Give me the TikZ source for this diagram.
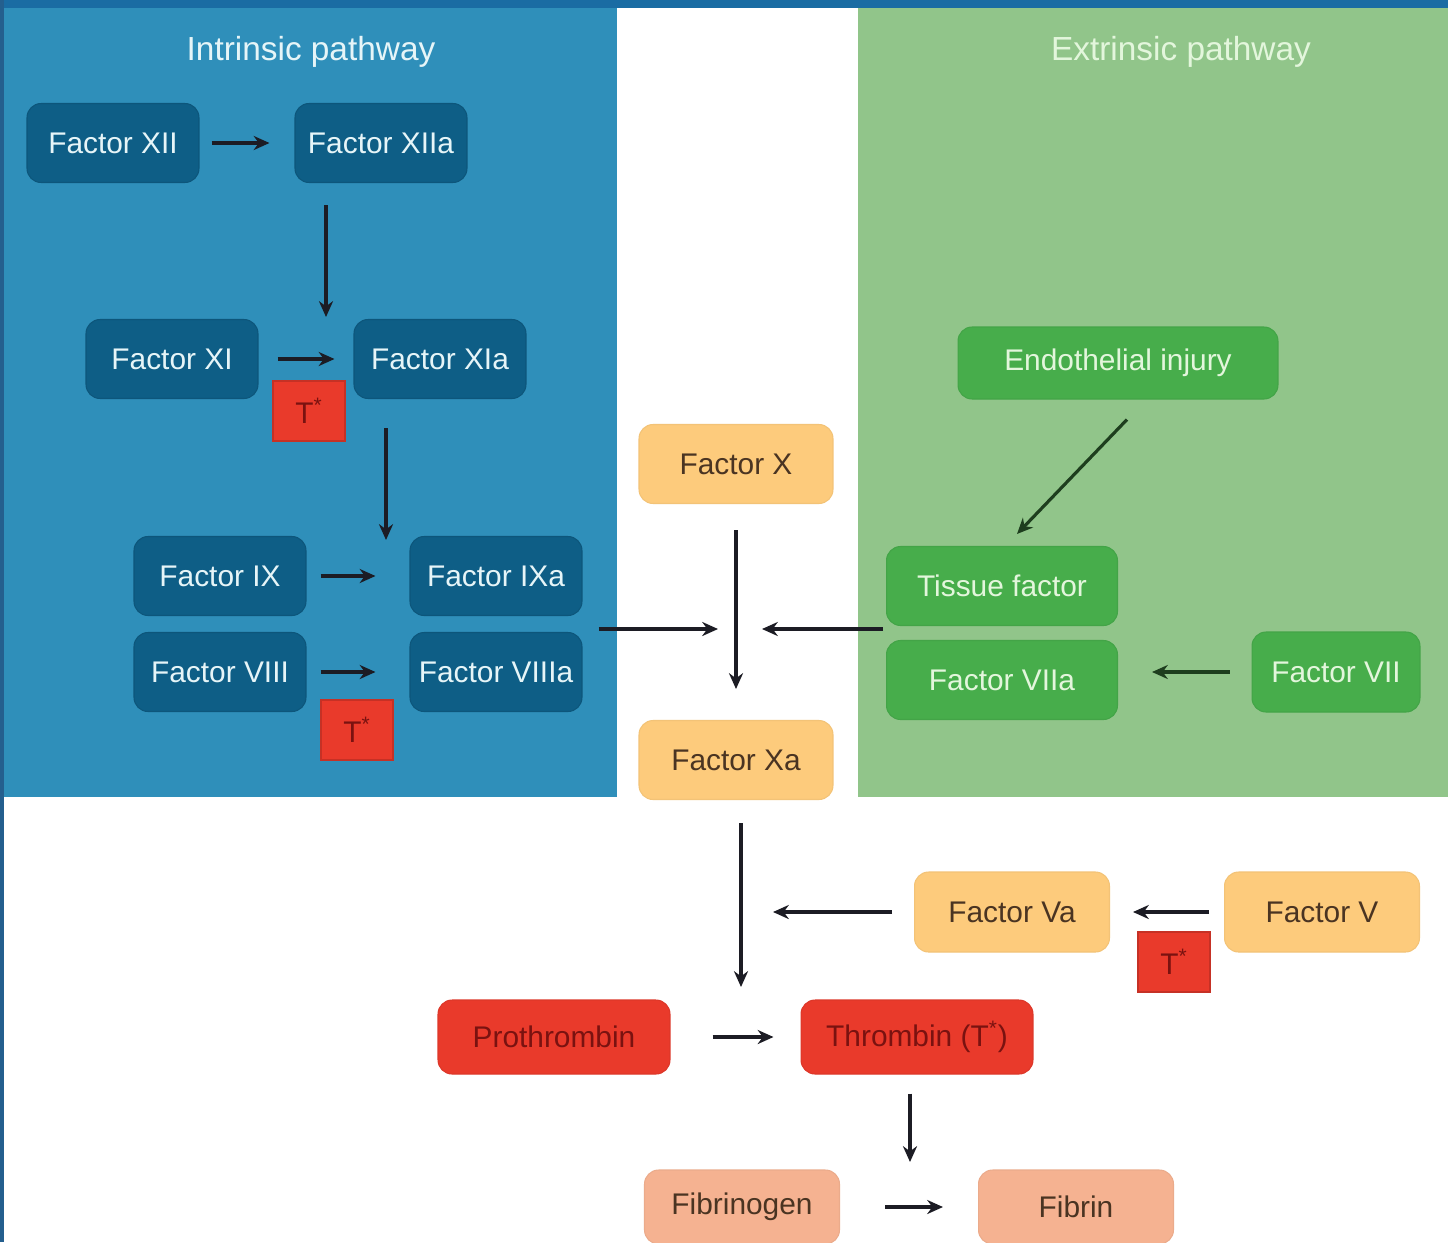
\documentclass[tikz,border=0pt]{standalone}
\usepackage{fontspec}
\setmainfont{Liberation Sans}
\usepackage{tikz}
\usetikzlibrary{arrows.meta,positioning,calc}
\usepackage{xcolor}
\definecolor{panelblue}{HTML}{2F8FBA}
\definecolor{boxblue}{HTML}{0E5E86}
\definecolor{panelgreen}{HTML}{91C58A}
\definecolor{boxgreen}{HTML}{47AD4B}
\definecolor{boxorange}{HTML}{FDCB7C}
\definecolor{boxred}{HTML}{E93A2B}
\definecolor{boxsalmon}{HTML}{F5B291}
\definecolor{topbar}{HTML}{1A6CA3}
\definecolor{edgeblue}{HTML}{245F8E}
\definecolor{txtblue}{HTML}{E6F5F8}
\definecolor{txtgreen}{HTML}{E3F6DC}
\definecolor{txtbrown}{HTML}{4A3422}
\definecolor{txtred}{HTML}{7A1210}
\definecolor{arrowdark}{HTML}{1C1C24}
\definecolor{arrowgreen}{HTML}{1E3E1E}
\tikzset{
  fbox/.style={rectangle,rounded corners=8pt,minimum width=3.44cm,
    minimum height=1.58cm,inner sep=2pt,font=\fontsize{17}{20}\selectfont,
    line width=0.6pt},
  intbox/.style={fbox,fill=boxblue,draw=boxblue!92!black,text=txtblue},
  extbox/.style={fbox,fill=boxgreen,draw=boxgreen!95!black,text=txtgreen},
  combox/.style={fbox,fill=boxorange,draw=boxorange!96!black,text=txtbrown,
    minimum width=3.88cm},
  thbox/.style={fbox,fill=boxred,draw=boxred!95!black,text=txtred,
    minimum width=4.64cm,minimum height=1.48cm},
  fibbox/.style={fbox,fill=boxsalmon,draw=boxsalmon!96!black,text=txtbrown,
    minimum width=3.9cm,minimum height=1.48cm},
  tstar/.style={rectangle,fill=boxred,draw=boxred!85!black,text=txtred,
    minimum width=1.44cm,minimum height=1.2cm,inner sep=0pt,
    font=\fontsize{17}{20}\selectfont,line width=0.6pt},
  paneltitle/.style={text=txtblue,font=\fontsize{19}{22}\selectfont},
  rxn/.style={-{Stealth[length=9pt,width=8pt]},line width=1.8pt,color=arrowdark},
  rxnext/.style={rxn,color=arrowgreen},
}

\begin{document}
\begin{tikzpicture}[x=0.02cm,y=-0.02cm]
  \useasboundingbox (0,0) rectangle (1448,1242);
  % background and panels
  \fill[white] (0,0) rectangle (1448,1242);
  \fill[panelblue] (4,8) rectangle (617,797);
  \fill[panelgreen] (858,8) rectangle (1448,797);
  \fill[topbar] (0,0) rectangle (1448,8);
  \fill[edgeblue] (0,0) rectangle (4,1242);
  \node[paneltitle] (ttlint) at (311,52) {Intrinsic pathway};
  \node[paneltitle,text=txtgreen] (ttlext) at (1181,52) {Extrinsic pathway};

  % intrinsic pathway
  \node[intbox] (f12)  at (113,143) {Factor XII};
  \node[intbox] (f12a) at (381,143) {Factor XIIa};
  \node[intbox] (f11)  at (172,359) {Factor XI};
  \node[intbox] (f11a) at (440,359) {Factor XIa};
  \node[intbox] (f9)   at (220,576) {Factor IX};
  \node[intbox] (f9a)  at (496,576) {Factor IXa};
  \node[intbox] (f8)   at (220,672) {Factor VIII};
  \node[intbox] (f8a)  at (496,672) {Factor VIIIa};
  \node[tstar]  (t1)   at (309,411) {T\textsuperscript{*}};
  \node[tstar]  (t2)   at (357,730) {T\textsuperscript{*}};

  % extrinsic pathway
  \node[extbox,minimum width=6.4cm,minimum height=1.44cm] (endo) at (1118,363) {Endothelial injury};
  \node[extbox,minimum width=4.62cm] (tf)  at (1002,586) {Tissue factor};
  \node[extbox,minimum width=4.62cm] (f7a) at (1002,680) {Factor VIIa};
  \node[extbox,minimum width=3.36cm,minimum height=1.6cm] (f7) at (1336,672) {Factor VII};

  % common pathway
  \node[combox] (fx)  at (736,464) {Factor X};
  \node[combox] (fxa) at (736,760) {Factor Xa};
  \node[combox,minimum width=3.9cm,minimum height=1.6cm] (f5a) at (1012,912) {Factor Va};
  \node[combox,minimum width=3.9cm,minimum height=1.6cm] (f5)  at (1322,912) {Factor V};
  \node[tstar]  (t3)  at (1174,962) {T\textsuperscript{*}};
  \node[thbox]  (pro) at (554,1037) {Prothrombin};
  \node[thbox]  (thr) at (917,1037) {Thrombin (T\textsuperscript{*})};
  \node[fibbox] (fbg) at (742,1207) {Fibrinogen};
  \node[fibbox] (fbn) at (1076,1207) {Fibrin};

  \coordinate (act11) at (326,317);
  \coordinate (act9)  at (386,540);
  \coordinate (join)  at (737,629);
  \coordinate (act2)  at (741,987);
  \coordinate (act1)  at (910,1162);

  \draw[rxn,shorten <=0.24cm,shorten >=0.5cm] (f12) -- (f12a);
  \draw[rxn] ([shift={(-55,22)}]f12a.south) -- (act11);
  \draw[rxn,shorten <=0.38cm,shorten >=0.38cm] (f11) -- (f11a);
  \draw[rxn] ([shift={(-54,29)}]f11a.south) -- (act9);
  \draw[rxn,shorten <=0.28cm,shorten >=0.68cm] (f9) -- (f9a);
  \draw[rxn,shorten <=0.28cm,shorten >=0.68cm] (f8) -- (f8a);

  \draw[rxnext] ([shift={(9,20)}]endo.south) -- ([shift={(15,-12)}]tf.north);
  \draw[rxnext,shorten <=0.44cm,shorten >=0.68cm] (f7.west) -- (f7.west -| f7a.east);

  \draw[rxn,shorten <=0.32cm,shorten >=0.38cm] (join -| f9a.east) -- (join);
  \draw[rxn,shorten <=0.06cm,shorten >=0.5cm] (join -| tf.west) -- (join);
  \draw[rxn,shorten <=0.52cm,shorten >=0.62cm] (fx) -- (fxa);
  \draw[rxn,shorten <=0.46cm] (fxa.south -| act2) -- (act2);
  \draw[rxn,shorten <=0.44cm,shorten >=0.64cm] (f5a.west) -- (f5a.west -| act2);
  \draw[rxn,shorten <=0.3cm,shorten >=0.46cm] (f5) -- (f5a);
  \draw[rxn,shorten <=0.84cm,shorten >=0.54cm] (pro) -- (thr);
  \draw[rxn,shorten <=0.38cm] (thr.south -| act1) -- (act1);
  \draw[rxn,shorten <=0.9cm,shorten >=0.7cm] (fbg) -- (fbn);
\end{tikzpicture}
\end{document}
